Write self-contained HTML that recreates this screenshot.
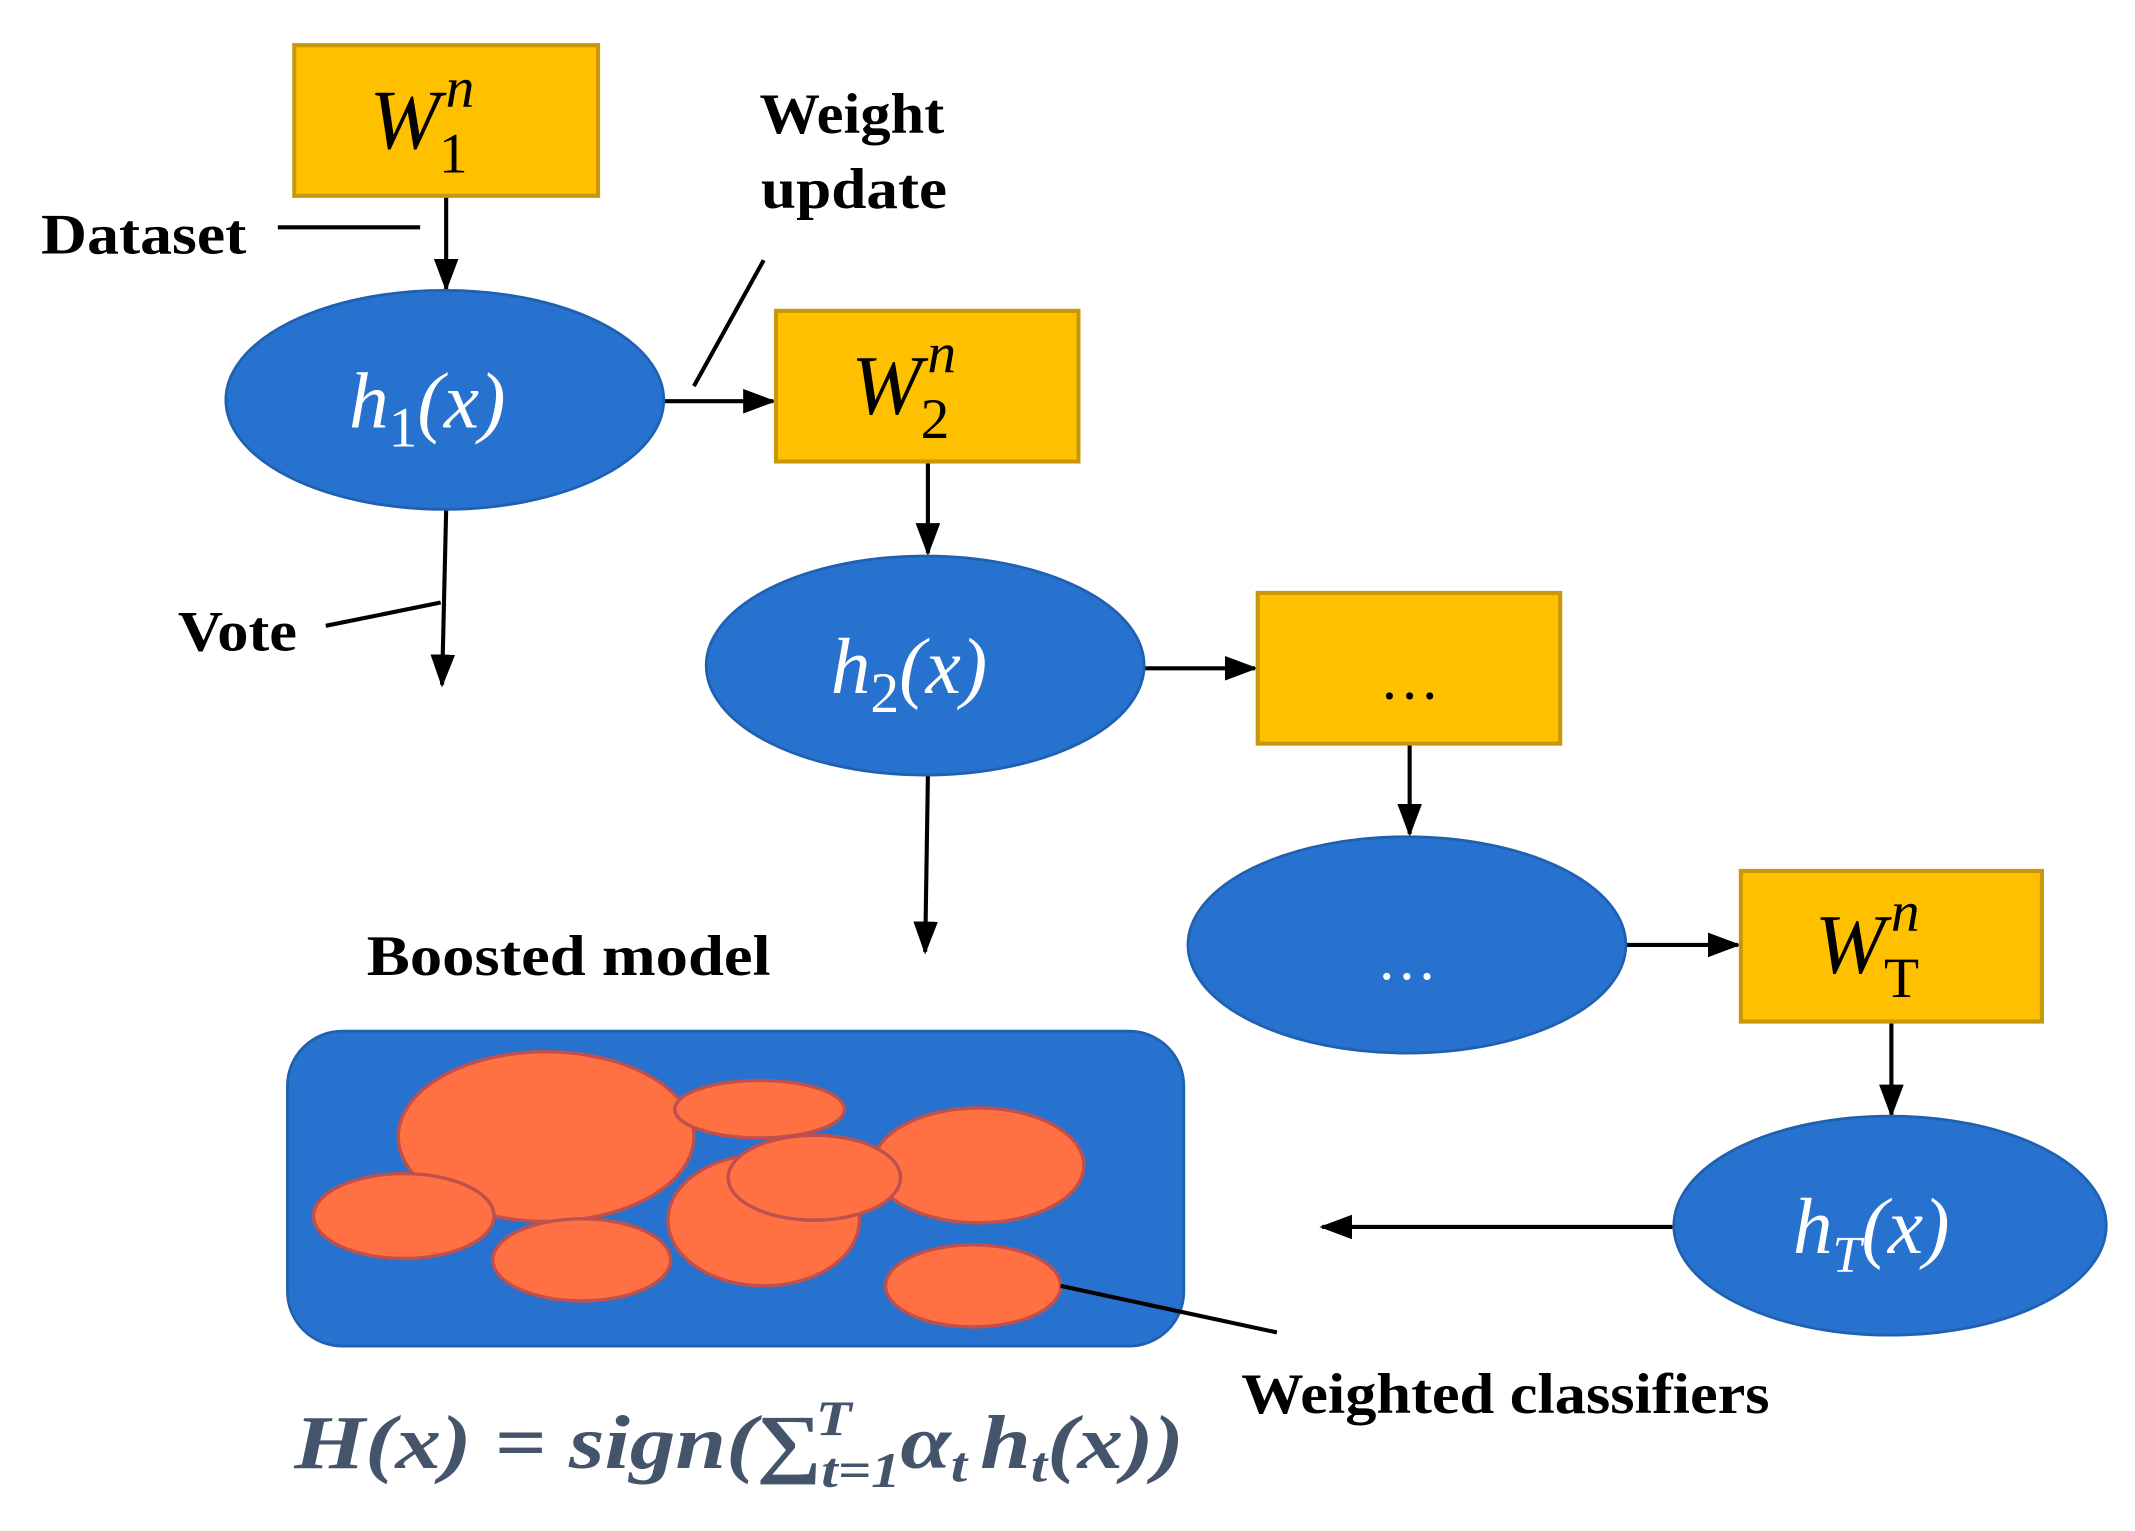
<!DOCTYPE html>
<html><head><meta charset="utf-8"><style>html,body{margin:0;padding:0;background:#fff;}svg{display:block}</style></head>
<body>
<svg width="2135" height="1531" viewBox="0 0 1560 1118" preserveAspectRatio="none" xmlns="http://www.w3.org/2000/svg">
<defs>
<marker id="ahb" markerWidth="24" markerHeight="18" refX="22" refY="9" orient="auto" markerUnits="userSpaceOnUse" viewBox="0 0 24 18">
<path d="M0,0 L24,9 L0,18 z" fill="#000"/></marker>
</defs>
<g font-family="Liberation Serif, serif" font-weight="bold" font-size="42" fill="#000" lengthAdjust="spacingAndGlyphs">
<text x="30" y="185" textLength="150" lengthAdjust="spacingAndGlyphs">Dataset</text>
<text x="555" y="97" textLength="135" lengthAdjust="spacingAndGlyphs">Weight</text>
<text x="556" y="152" textLength="136" lengthAdjust="spacingAndGlyphs">update</text>
<text x="130" y="475" textLength="87" lengthAdjust="spacingAndGlyphs">Vote</text>
<text x="268" y="712" textLength="295" lengthAdjust="spacingAndGlyphs">Boosted model</text>
<text x="907" y="1032" textLength="386" lengthAdjust="spacingAndGlyphs">Weighted classifiers</text>
</g>
<g stroke="#000" stroke-width="3" fill="none">
<line x1="203" y1="166" x2="307" y2="166"/>
<line x1="326" y1="143" x2="326" y2="211" marker-end="url(#ahb)"/>
<line x1="558" y1="190" x2="507" y2="282"/>
<line x1="485" y1="293" x2="565" y2="293" marker-end="url(#ahb)"/>
<line x1="678" y1="337" x2="678" y2="404" marker-end="url(#ahb)"/>
<line x1="326" y1="372" x2="323" y2="500" marker-end="url(#ahb)"/>
<line x1="238" y1="457" x2="322" y2="440"/>
<line x1="836" y1="488" x2="917" y2="488" marker-end="url(#ahb)"/>
<line x1="1030" y1="543" x2="1030" y2="609" marker-end="url(#ahb)"/>
<line x1="1188" y1="690" x2="1270" y2="690" marker-end="url(#ahb)"/>
<line x1="1382" y1="746" x2="1382" y2="814" marker-end="url(#ahb)"/>
<line x1="1222" y1="896" x2="966" y2="896" marker-end="url(#ahb)"/>
<line x1="678" y1="566" x2="676" y2="695" marker-end="url(#ahb)"/>
</g>
<g fill="#FFC000" stroke="#C9980A" stroke-width="3">
<rect x="215" y="33" width="222" height="110"/>
<rect x="567" y="227" width="221" height="110"/>
<rect x="919" y="433" width="221" height="110"/>
<rect x="1272" y="636" width="220" height="110"/>
</g>
<g fill="#2672CE" stroke="#2060B0" stroke-width="2">
<ellipse cx="325" cy="292" rx="160" ry="80"/>
<ellipse cx="676" cy="486" rx="160" ry="80"/>
<ellipse cx="1028" cy="690" rx="160" ry="79"/>
<ellipse cx="1381" cy="895" rx="158" ry="80"/>
<rect x="210" y="753" width="655" height="230" rx="40" ry="40"/>
</g>
<g fill="#FF7043" stroke="#C0504D" stroke-width="2.5">
<ellipse cx="399" cy="830" rx="108" ry="62"/>
<ellipse cx="555" cy="810" rx="62" ry="21"/>
<ellipse cx="715" cy="851" rx="77" ry="42"/>
<ellipse cx="295" cy="888" rx="66" ry="31"/>
<ellipse cx="558" cy="891" rx="70" ry="48"/>
<ellipse cx="595" cy="860" rx="63" ry="31"/>
<ellipse cx="425" cy="920" rx="65" ry="30"/>
<ellipse cx="711" cy="939" rx="64" ry="30"/>
</g>
<line x1="775" y1="939" x2="933" y2="973" stroke="#000" stroke-width="3"/>
<g font-family="Liberation Serif, serif" font-style="italic" font-size="62" fill="#000">
<text x="270" y="108">W<tspan font-size="42" dx="4" dy="-30">n</tspan><tspan font-style="normal" font-size="42" dx="-26" dy="48">1</tspan></text>
<text x="622" y="302">W<tspan font-size="42" dx="4" dy="-30">n</tspan><tspan font-style="normal" font-size="42" dx="-26" dy="48">2</tspan></text>
<text x="1326" y="710">W<tspan font-size="42" dx="4" dy="-30">n</tspan><tspan font-style="normal" font-size="42" dx="-26" dy="48">T</tspan></text>
<text x="1030" y="510" text-anchor="middle" font-style="normal" font-size="44">…</text>
</g>
<g font-family="Liberation Serif, serif" font-style="italic" font-size="58" fill="#fff">
<text x="255" y="312">h<tspan font-style="normal" font-size="42" dy="14">1</tspan><tspan dy="-14">(x)</tspan></text>
<text x="607" y="506">h<tspan font-style="normal" font-size="42" dy="14">2</tspan><tspan dy="-14">(x)</tspan></text>
<text x="1310" y="915">h<tspan font-size="38" dy="14">T</tspan><tspan dy="-14">(x)</tspan></text>
<text x="1028" y="715" text-anchor="middle" font-style="normal" font-size="44">…</text>
</g>
<text x="215" y="1072" textLength="650" lengthAdjust="spacingAndGlyphs" font-family="Liberation Serif, serif" font-style="italic" font-weight="bold" font-size="56" fill="#44546A">H(x) = sign(∑<tspan font-size="36" dy="14">t=1</tspan><tspan font-size="36" dx="-52" dy="-38">T</tspan><tspan dx="30" dy="24">α</tspan><tspan font-size="36" dy="10">t</tspan><tspan dx="8" dy="-10">h</tspan><tspan font-size="36" dy="10">t</tspan><tspan dy="-10">(x))</tspan></text>
</svg>
</body></html>
